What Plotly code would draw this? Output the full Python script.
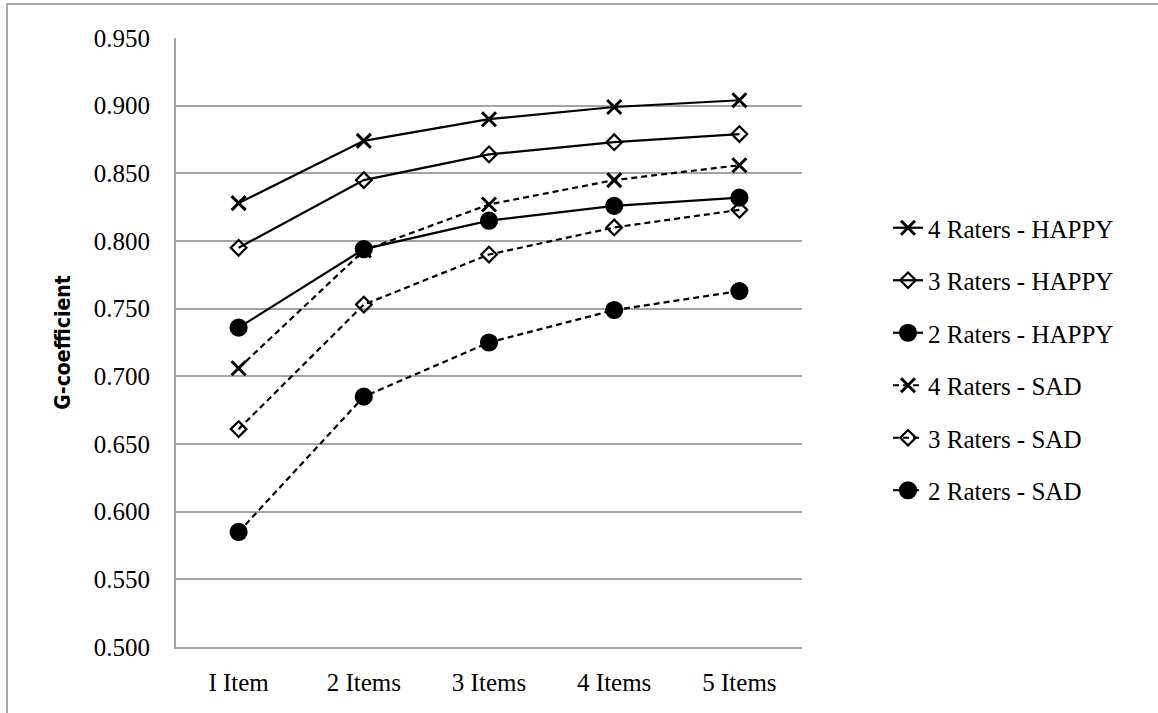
import plotly.graph_objects as go

categories = ["I Item", "2 Items", "3 Items", "4 Items", "5 Items"]

happy_4 = [0.828, 0.874, 0.890, 0.899, 0.904]
happy_3 = [0.795, 0.845, 0.864, 0.873, 0.879]
happy_2 = [0.736, 0.794, 0.815, 0.826, 0.832]
sad_4 = [0.706, 0.793, 0.827, 0.845, 0.856]
sad_3 = [0.661, 0.753, 0.790, 0.810, 0.823]
sad_2 = [0.585, 0.685, 0.725, 0.749, 0.763]

series = [
    ("4 Raters - HAPPY", happy_4, "x-thin-open", "solid", 14),
    ("3 Raters - HAPPY", happy_3, "diamond-open", "solid", 12),
    ("2 Raters - HAPPY", happy_2, "circle", "solid", 16),
    ("4 Raters - SAD", sad_4, "x-thin-open", "6px,4px", 14),
    ("3 Raters - SAD", sad_3, "diamond-open", "6px,4px", 12),
    ("2 Raters - SAD", sad_2, "circle", "6px,4px", 16),
]

W, H = 1158, 713
L, R, T, B = 176, 802, 38, 647

fig = go.Figure()
for i, (name, vals, sym, dash, size) in enumerate(series):
    fig.add_trace(go.Scatter(
        x=categories, y=vals, name=name, mode="lines+markers",
        line=dict(color="black", width=2.2, dash=dash),
        marker=dict(symbol=sym, size=size, color="black",
                    line=dict(color="black", width=3 if "x" in sym else 2.2)),
        legendgroup=f"g{i}",
    ))

def px_x(p):
    return (p - L) / (R - L)

def px_y(p):
    return (B - p) / (B - T)

grid = "#a3a3a3"
fig.update_layout(
    width=W, height=H,
    margin=dict(l=L, r=W - R, t=T, b=H - B),
    paper_bgcolor="white", plot_bgcolor="white",
    font=dict(family="Liberation Serif, serif", size=25, color="black"),
    showlegend=True,
    legend=dict(x=px_x(888), y=px_y(205), xanchor="left", yanchor="top",
                tracegroupgap=17, font=dict(size=25), bgcolor="rgba(0,0,0,0)"),
    xaxis=dict(type="category", range=[-0.5, 4.5], showgrid=False,
               showline=True, linecolor=grid, linewidth=2, ticks="",
               ticklabelstandoff=12, tickfont=dict(size=25)),
    yaxis=dict(range=[0.5, 0.95], dtick=0.05, tick0=0.5, tickformat=".3f",
               showgrid=True, gridcolor=grid, gridwidth=2,
               showline=True, linecolor=grid, linewidth=2, ticks="",
               ticklabelstandoff=19, tickfont=dict(size=25), zeroline=False,
               title=dict(text="<b>G-coefficient</b>", standoff=17,
                          font=dict(family="DejaVu Sans Condensed, Roboto Condensed, Liberation Sans Narrow, sans-serif", size=21))),
    shapes=[dict(type="rect", xref="paper", yref="paper",
                 x0=px_x(7), x1=px_x(1175), y0=px_y(730), y1=px_y(4),
                 line=dict(color="#a8a8a8", width=2), layer="below")],
)

fig.write_html("out.html", config={"displayModeBar": False},
               post_script="document.body.style.margin='0px';")
